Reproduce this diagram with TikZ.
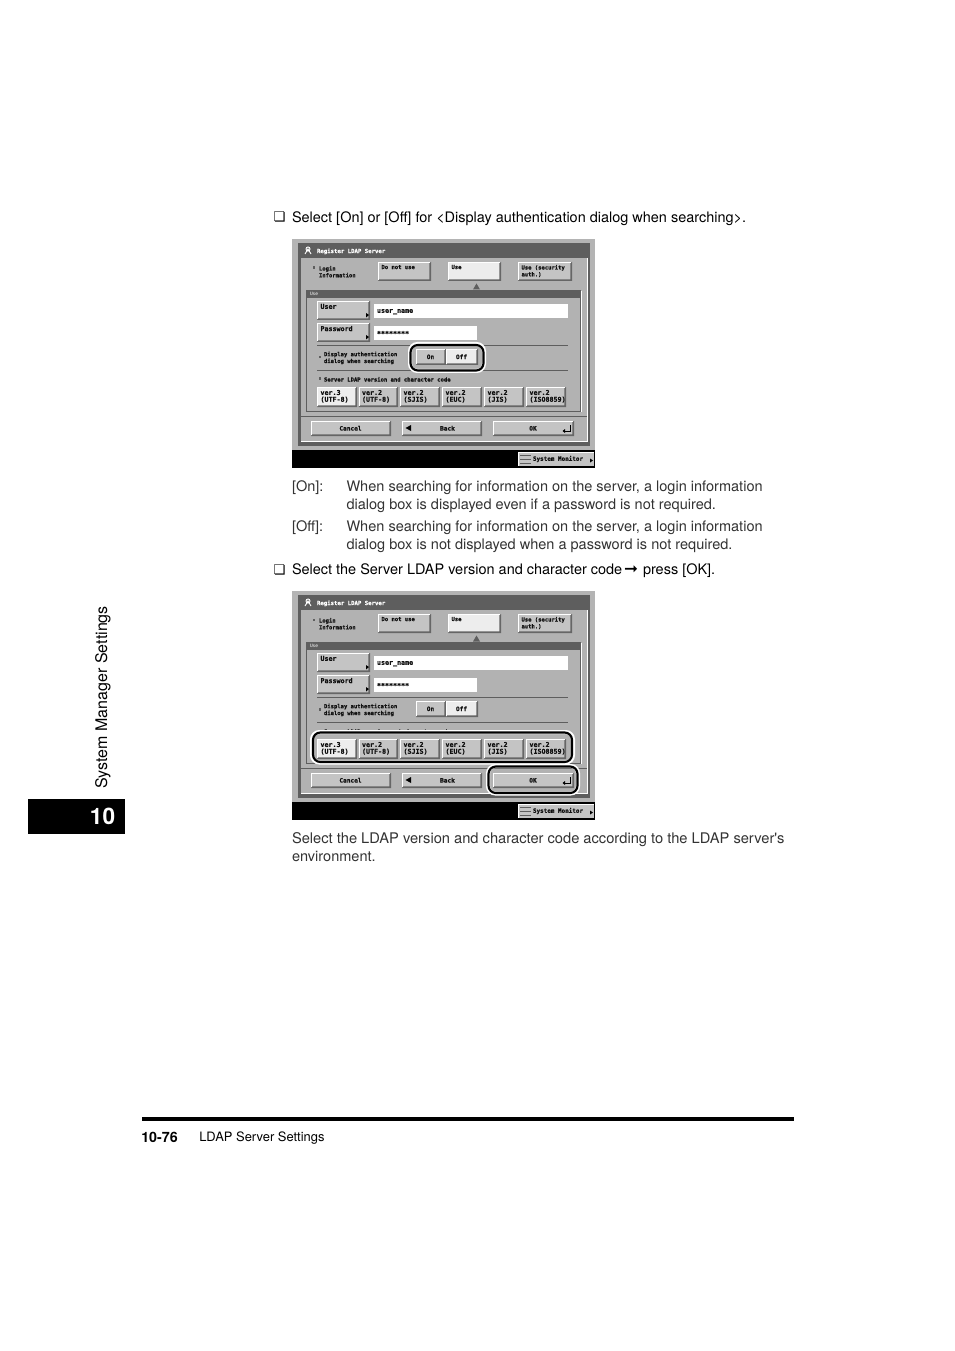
\documentclass[tikz,border=0pt]{standalone}
\usepackage{fontspec}
\setmainfont{TeX Gyre Heros}
\newfontfamily\uif[BoldFeatures={FakeBold=0.6}]{DejaVu Sans Mono}
\newfontfamily\symf{DejaVu Sans}
\definecolor{outerg}{HTML}{B4B4B4}
\definecolor{panelg}{HTML}{B2B2B2}
\definecolor{frameg}{HTML}{5E5E5E}
\definecolor{btng}{HTML}{C4C4C4}
\definecolor{btnw}{HTML}{EDEDED}
\definecolor{bodyt}{HTML}{333333}
\definecolor{uit}{HTML}{111111}
\newcommand{\uibig}{\fontsize{5}{5.3}\selectfont}
\newcommand{\uimid}{\fontsize{4.6}{5.2}\selectfont}
\tikzset{
  x=0.75pt,y=-0.75pt,
  body/.style={anchor=base west,inner sep=0pt,outer sep=0pt,font=\fontsize{10.85}{13}\selectfont,text=black},
  desc/.style={anchor=base west,inner sep=0pt,outer sep=0pt,font=\fontsize{10.9}{13}\selectfont,text=bodyt},
  uitext/.style={inner sep=0pt,outer sep=0pt,align=left,text=uit,font=\uif\bfseries\fontsize{4.15}{5.1}\selectfont},
  uiwhite/.style={uitext,text=white},
  ring/.style={rounded corners=5.5pt,line width=1.6pt,draw=black},
  halo/.style={rounded corners=5.5pt,line width=3pt,draw=white},
}
% x1 y1 x2 y2 fill name text : label at upper left
\newcommand{\uibtn}[7]{%
  \fill[#5] (#1,#2) rectangle (#3,#4);
  \fill[black!60] (#3-1.6,#2+1) -- (#3,#2) -- (#3,#4) -- (#1,#4) -- (#1+1,#4-1.6) -- (#3-1.6,#4-1.6) -- cycle;
  \draw[white,line width=0.4pt] (#1+.4,#4-1) -- (#1+.4,#2+.4) -- (#3-1,#2+.4);
  \node[uitext,anchor=north west] (#6) at (#1+3.5,#2+3) {#7};
}
% centred label
\newcommand{\uibtnc}[7]{%
  \fill[#5] (#1,#2) rectangle (#3,#4);
  \fill[black!60] (#3-1.6,#2+1) -- (#3,#2) -- (#3,#4) -- (#1,#4) -- (#1+1,#4-1.6) -- (#3-1.6,#4-1.6) -- cycle;
  \draw[white,line width=0.4pt] (#1+.4,#4-1) -- (#1+.4,#2+.4) -- (#3-1,#2+.4);
  \node[uitext,anchor=center] (#6) at ({(#1+#3)/2-.5},{(#2+#4)/2-.2}) {#7};
}
% prefix, y shift, hook before version buttons
\newcommand{\uiscreen}[3]{%
\begin{scope}[shift={(0,#2)}]
  \fill[outerg] (292,239) rectangle (595,450);
  \fill[black] (292,450) rectangle (595,468);
  \fill[frameg] (298,243) rectangle (590,446);
  \fill[panelg] (301,258) rectangle (587,441);
  \draw[white,line width=.4pt] (587,258) -- (587,441) -- (301,441);
  \node[uiwhite,anchor=west,font=\uif\bfseries\fontsize{4.25}{5}\selectfont] (#1title) at (317,251.3) {Register LDAP Server};
  \draw[white,line width=.7pt] (308,249) circle (2) (305,254) -- (308,249) -- (311,254);
  \fill[frameg] (312.5,266.5) rectangle (315,269);
  \node[uitext,anchor=north west] (#1login) at (319,266) {Login\\Information};
  \uibtn{378}{262}{431}{281}{btng}{#1dnu}{Do not use}
  \uibtn{448}{262}{501}{281}{btnw}{#1use}{Use}
  \uibtn{518}{262}{572}{281}{btng}{#1sec}{Use (security\\auth.)}
  \fill[frameg] (476.5,283.5) -- (480,289.5) -- (473,289.5) -- cycle;
  % Use group
  \draw[white,line width=.5pt] (306,411.5) -- (581,411.5) -- (581,291);
  \draw[frameg,line width=.6pt] (306,290) rectangle (580,411);
  \fill[frameg] (306,290) rectangle (580,298);
  \node[uiwhite,anchor=west,font=\uif\fontsize{3.4}{4}\selectfont] (#1usehead) at (310,294.3) {Use};
  \uibtn{317}{301}{370}{320}{btng}{#1user}{\uibig User}
  \fill[black] (366,313) -- (369,315) -- (366,317.5) -- cycle;
  \fill[white] (374,304) rectangle (568,318);
  \node[uitext,anchor=west,font=\uif\bfseries\uibig] (#1uname) at (377,311.7) {user\_name};
  \uibtn{317}{323}{370}{342}{btng}{#1pass}{\uibig Password}
  \fill[black] (366,335) -- (369,337) -- (366,339.5) -- cycle;
  \fill[white] (374,326) rectangle (477,340);
  \node[uitext,anchor=west,font=\uif\bfseries\uibig] (#1stars) at (377,333.5) {********};
  \draw[frameg,line width=.5pt] (317,345.5) -- (568,345.5);
  \draw[frameg,line width=.5pt] (317,370.5) -- (568,370.5);
  \fill[frameg] (318.5,356) rectangle (321,358.5);
  \node[uitext,anchor=north west] (#1disp) at (324,351.7) {Display authentication\\dialog when searching};
  \fill[frameg] (318.5,377.5) rectangle (321,380);
  \node[uitext,anchor=west] (#1ver) at (324,379.3) {Server LDAP version and character code};
  \uibtnc{416}{349}{446}{365}{btng}{#1on}{\uimid On}
  \uibtnc{446}{349}{478}{365}{btnw}{#1off}{\uimid Off}
  #3
  \uibtn{317}{387}{357}{407}{btnw}{#1va}{\uibig ver.3\\\uibig (UTF-8)}
  \uibtn{358.5}{387}{398}{407}{btng}{#1vb}{\uibig ver.2\\\uibig (UTF-8)}
  \uibtn{400}{387}{440}{407}{btng}{#1vc}{\uibig ver.2\\\uibig (SJIS)}
  \uibtn{442}{387}{482}{407}{btng}{#1vd}{\uibig ver.2\\\uibig (EUC)}
  \uibtn{484}{387}{524}{407}{btng}{#1ve}{\uibig ver.2\\\uibig (JIS)}
  \uibtn{526}{387}{566}{407}{btng}{#1vf}{\uibig ver.2\\\uibig (ISO8859)}
  \draw[frameg,line width=.5pt] (301,416) -- (587,416);
  \uibtnc{311}{421}{391}{436}{btng}{#1cancel}{\uimid Cancel}
  \uibtnc{402}{421}{482}{436}{btng}{#1back}{\uimid\hspace*{9pt}Back}
  \fill[black] (405.5,428) -- (411,425) -- (411,431) -- cycle;
  \uibtnc{493}{421}{574}{436}{btng}{#1ok}{\uimid OK}
  \draw[black,line width=.7pt] (570,425) -- (570,431) -- (564,431);
  \fill[black] (562.5,431) -- (565,429) -- (565,433) -- cycle;
  \fill[btng] (518,452) rectangle (594,466);
  \draw[white,line width=.5pt] (518.3,465.5) -- (518.3,452.3) -- (594,452.3);
  \draw[frameg,line width=.4pt] (520,455) -- (531,455) (520,459) -- (531,459) (520,463) -- (531,463);
  \node[uitext,anchor=west,font=\uif\bfseries\fontsize{4.45}{5}\selectfont] (#1sys) at (533,459) {System Monitor};
  \fill[black] (590,458.5) -- (593,460.5) -- (590,462.5) -- cycle;
\end{scope}}
\begin{document}
\begin{tikzpicture}
\useasboundingbox (0,0) rectangle (954,1351);
\fill[white] (0,0) rectangle (954,1351);
% first instruction
\node[body,font=\symf\fontsize{10}{12}\selectfont] (chka) at (273.5,222) {❏};
\node[body] (stepa) at (292,222.7) {Select [On] or [Off] for <Display authentication dialog when searching>.};
\uiscreen{a}{0}{}
\draw[halo] (410,344) rectangle (484,371);
\draw[ring] (410.5,345) rectangle (483.5,370.5);
% descriptions
\node[desc] (onl) at (292,491) {[On]:};
\node[desc] (ona) at (346.5,491) {When searching for information on the server, a login information};
\node[desc] (onb) at (346.5,509) {dialog box is displayed even if a password is not required.};
\node[desc] (offl) at (292,531) {[Off]:};
\node[desc] (offa) at (346.5,531) {When searching for information on the server, a login information};
\node[desc] (offb) at (346.5,549) {dialog box is not displayed when a password is not required.};
% second instruction
\node[body,font=\symf\fontsize{10}{12}\selectfont] (chkb) at (273.5,574) {❏};
\node[body] (stepb) at (292,574) {Select the Server LDAP version and character code};
\node[body,font=\symf\fontsize{12.5}{12}\selectfont] (arr) at (624,574.5) {➞};
\node[body] (stepc) at (643,574) {press [OK].};
\uiscreen{b}{352}{%
  \draw[rounded corners=5.5pt,line width=3pt,draw=white,fill=panelg] (312,380) rectangle (573,410.5);
  \draw[ring] (313,380.5) rectangle (572,410);
}
\begin{scope}[shift={(0,352)}]
\draw[halo] (488,414) rectangle (578,441.5);
\draw[ring] (488.5,414.5) rectangle (577.5,441);
\end{scope}
\node[desc,font=\fontsize{11}{13}\selectfont] (enva) at (292,843) {Select the LDAP version and character code according to the LDAP server\textquotesingle s};
\node[desc] (envb) at (292,861) {environment.};
% side tab
\node[anchor=base west,inner sep=0pt,rotate=90,font=\fontsize{12}{14}\selectfont] (side) at (107,789) {System Manager Settings};
\fill[black] (28,799) rectangle (125,834);
\node[inner sep=0pt,text=white,font=\bfseries\fontsize{17}{20}\selectfont] (chap) at (102.5,816.5) {10};
% footer
\fill[black] (142,1117) rectangle (794,1121);
\node[anchor=base west,inner sep=0pt,font=\bfseries\fontsize{10.7}{12}\selectfont] (pg) at (141,1142) {10-76};
\node[anchor=base west,inner sep=0pt,font=\fontsize{9.7}{12}\selectfont] (foot) at (199,1141.5) {LDAP Server Settings};
\end{tikzpicture}
\end{document}
